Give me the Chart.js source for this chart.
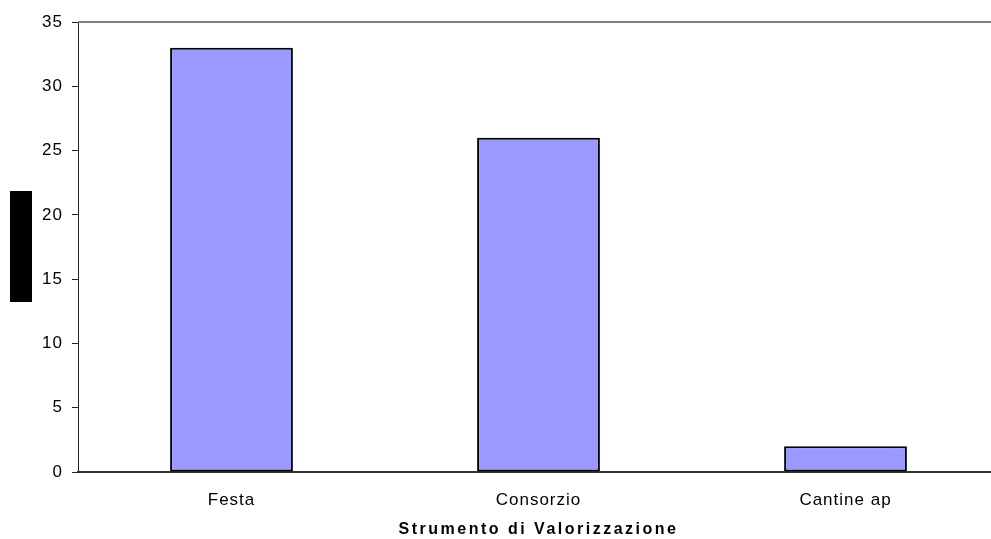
<!DOCTYPE html>
<html>
<head>
<meta charset="utf-8">
<script src="https://cdn.jsdelivr.net/npm/chart.js@4/dist/chart.umd.min.js"></script>
<style>
  html, body { margin: 0; padding: 0; background: #fff; overflow: hidden; }
  #wrap { width: 1000px; height: 539px; position: relative; }
</style>
</head>
<body>
<div id="wrap"><canvas id="myChart"></canvas></div>
<script>
let categories = ['Festa', 'Consorzio', 'Cantine ap'];
let values = [33, 26, 2];
let yMax = 35;
let yStep = 5;
let xTitle = 'Strumento di Valorizzazione';

// top border, axis title (spaced out like the original) and the blacked-out y title
const framePlugin = {
    id: 'frame',
    beforeDraw(chart) {
        chart.ctx.letterSpacing = '1px';
    },
    afterDraw(chart) {
        const c = chart.ctx;
        const a = chart.chartArea;
        c.save();
        c.strokeStyle = '#808080';
        c.lineWidth = 2;
        c.beginPath();
        c.moveTo(a.left, a.top);
        c.lineTo(a.right, a.top);
        c.stroke();

        c.fillStyle = '#000';
        let mid = (a.top + a.bottom) / 2;
        c.fillRect(10, mid - 56, 22, 111);

        c.letterSpacing = '2.5px';
        c.font = 'bold 16px "Liberation Sans"';
        c.textAlign = 'center';
        c.textBaseline = 'middle';
        c.fillText(xTitle, (a.left + a.right) / 2, 530);
        c.restore();
    }
};

const ctx = document.getElementById('myChart');

new Chart(ctx, {
    type: 'bar',
    data: {
        labels: categories,
        datasets: [{
            data: values,
            backgroundColor: '#9999FF',
            borderColor: '#000',
            borderWidth: 2,
            borderSkipped: false,
            barPercentage: 0.4,
            categoryPercentage: 1
        }]
    },
    options: {
        responsive: true,
        maintainAspectRatio: false,
        animation: false,
        layout: { padding: { top: 22, right: 1, left: 0, bottom: 0 } },
        plugins: {
            legend: { display: false },
            tooltip: { enabled: false }
        },
        scales: {
            x: {
                grid: { display: false },
                border: { display: true, color: '#333', width: 2 },
                ticks: {
                    color: '#000',
                    padding: 10,
                    font: { family: 'Liberation Sans', size: 17 }
                },
                afterFit: s => { s.height = 67; }
            },
            y: {
                min: 0,
                max: yMax,
                ticks: {
                    stepSize: yStep,
                    color: '#000',
                    padding: 9,
                    font: { family: 'Liberation Sans', size: 17 }
                },
                grid: {
                    drawOnChartArea: false,
                    drawTicks: true,
                    tickLength: 6,
                    color: '#222'
                },
                border: { display: true, color: '#222', width: 1 },
                afterFit: s => { s.width = 78; }
            }
        }
    },
    plugins: [framePlugin]
});
</script>
</body>
</html>
